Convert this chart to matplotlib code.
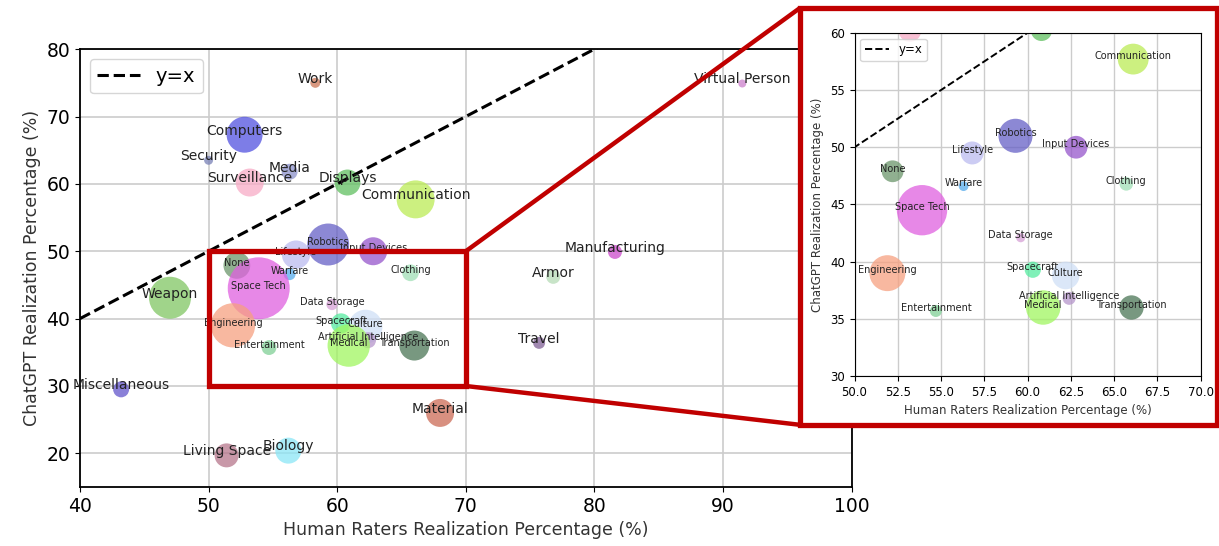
import numpy as np
import matplotlib
matplotlib.use("Agg")
import matplotlib.pyplot as plt
import matplotlib.colors as mcolors
from matplotlib.patches import Rectangle, ConnectionPatch

# Categories and their positions (human %, chatgpt %)
names = ["Work", "Virtual Person", "Computers", "Security", "Media", "Surveillance",
         "Displays", "Communication", "Robotics", "Input Devices", "Lifestyle", "None",
         "Warfare", "Clothing", "Space Tech", "Weapon", "Data Storage", "Engineering",
         "Spacecraft", "Culture", "Artificial Intelligence", "Medical", "Transportation",
         "Entertainment", "Manufacturing", "Armor", "Travel", "Miscellaneous",
         "Material", "Living Space", "Biology"]
human = [58.3, 91.5, 52.8, 50.0, 56.3, 53.2,
         60.8, 66.1, 59.3, 62.8, 56.8, 52.2,
         56.3, 65.7, 53.9, 47.0, 59.6, 51.9,
         60.3, 62.2, 62.4, 60.9, 66.0,
         54.7, 81.6, 76.8, 75.7, 43.2,
         68.0, 51.4, 56.2]
chatgpt = [75.0, 74.9, 67.3, 63.5, 61.8, 60.2,
           60.2, 57.7, 51.0, 50.0, 49.5, 47.9,
           46.6, 46.8, 44.5, 43.1, 42.1, 39.0,
           39.3, 38.8, 36.8, 36.0, 36.0,
           35.7, 49.9, 46.2, 36.4, 29.5,
           26.0, 19.7, 20.4]
# bubble size (number of items)
counts = [25, 16, 324, 20, 64, 196,
          169, 361, 441, 196, 200, 180,
          36, 70, 961, 441, 32, 490,
          100, 289, 64, 450, 225,
          55, 49, 49, 36, 64,
          196, 144, 169]
colors = ["#d89880", "#d8a0d8", "#7d7de8", "#9aa0c8", "#a8acd8", "#f9c0d4",
          "#88d088", "#ccf080", "#8c88d4", "#b080d8", "#ccccf4", "#90b090",
          "#80c0f0", "#b8e8c8", "#e888e8", "#a0d48a", "#e0b8e0", "#f8b8a0",
          "#80f0b8", "#dce8f8", "#c8b0d8", "#b8f888", "#789880",
          "#a0dcb0", "#d878d8", "#c8e4c8", "#a088b0", "#8a80d8",
          "#d89080", "#c898a8", "#a8ecf8"]

alpha = 0.75
obs = np.array([mcolors.to_rgb(c) for c in colors])
base = np.clip((obs - (1 - alpha)) / alpha, 0, 1)

human = np.array(human)
chatgpt = np.array(chatgpt)
counts = np.array(counts)

red = "#c00000"
fig = plt.figure(figsize=(12.19, 5.46), dpi=100)

# ---- main plot
ax = fig.add_axes([0.0656, 0.108, 0.633, 0.802])
ax.scatter(human, chatgpt, s=counts * 2.07, c=base, alpha=alpha, edgecolors="none", zorder=2)
ax.plot([40, 100], [40, 100], "k--", lw=2.2, label="y=x", zorder=3)
for n, x, y in zip(names, human, chatgpt):
    small = 50 <= x <= 70 and 30 <= y <= 55
    ax.annotate(n, (x, y), xytext=(0, 2 if small else 3), textcoords="offset points",
                ha="center", va="center", fontsize=7 if small else 10,
                color="#222222", zorder=4)
ax.add_patch(Rectangle((50, 30), 20, 20, fill=False, edgecolor=red, lw=3.8, zorder=5))
ax.set_xlim(40, 100)
ax.set_ylim(15, 80)
ax.set_xticks(range(40, 101, 10))
ax.set_yticks(range(20, 81, 10))
ax.tick_params(labelsize=13.5)
ax.grid(True, color="#cccccc", lw=1.2)
ax.set_axisbelow(True)
for sp in ax.spines.values():
    sp.set_linewidth(1.3)
ax.set_xlabel("Human Raters Realization Percentage (%)", fontsize=12.5, color="#333333")
ax.set_ylabel("ChatGPT Realization Percentage (%)", fontsize=12.5, color="#333333")
ax.legend(loc="upper left", fontsize=14, handlelength=2.2)

# ---- zoom frame and connectors
frame = Rectangle((0.656, 0.222), 0.342, 0.763, transform=fig.transFigure,
                  facecolor="white", edgecolor=red, lw=3.8, zorder=1)
fig.add_artist(frame)
for ya, yb in [(50, 0.985), (30, 0.222)]:
    con = ConnectionPatch(xyA=(70, ya), coordsA=ax.transData, xyB=(0.656, yb),
                          coordsB=fig.transFigure, color=red, lw=3.2, zorder=0.5)
    fig.add_artist(con)

# ---- inset
axi = fig.add_axes([0.701, 0.311, 0.284, 0.629])
axi.set_zorder(2)
axi.scatter(human, chatgpt, s=counts * 2.07 * 0.66, c=base, alpha=alpha, edgecolors="none", zorder=2)
axi.plot([40, 100], [40, 100], "k--", lw=1.4, label="y=x", zorder=3)
for n, x, y in zip(names, human, chatgpt):
    if 50 <= x <= 70 and 30 <= y <= 59:
        axi.annotate(n, (x, y), xytext=(0, 2), textcoords="offset points",
                     ha="center", va="center", fontsize=7, color="#222222", zorder=4)
axi.set_xlim(50, 70)
axi.set_ylim(30, 60)
axi.set_xticks(np.arange(50, 70.1, 2.5))
axi.set_yticks(range(30, 61, 5))
axi.tick_params(labelsize=8.5)
axi.grid(True, color="#cccccc", lw=1)
axi.set_axisbelow(True)
axi.set_xlabel("Human Raters Realization Percentage (%)", fontsize=8.5, color="#333333")
axi.set_ylabel("ChatGPT Realization Percentage (%)", fontsize=8.5, color="#333333")
axi.legend(loc="upper left", fontsize=8.5)

fig.savefig("out.png", dpi=100)
